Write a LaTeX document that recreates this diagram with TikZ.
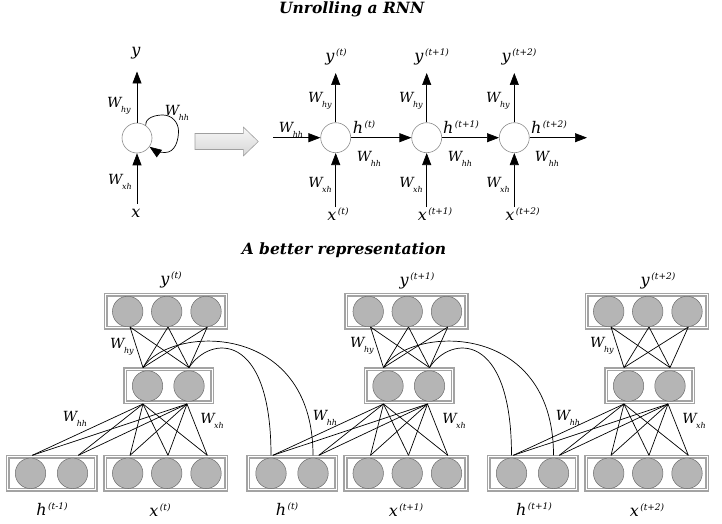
\documentclass[tikz,border=0pt]{standalone}
\usepackage{fontspec}
\setmainfont{DejaVu Serif}
\usetikzlibrary{arrows.meta}
\newcommand{\Wlab}[1]{\textit{W}\kern-1.5pt\raisebox{-5.5pt}{\fontsize{8}{8}\selectfont\textit{#1}}}
\newcommand{\suplab}[2]{\textit{#1}\kern1.5pt\raisebox{6.5pt}{\fontsize{9}{9}\selectfont\textit{#2}}}
\begin{document}
\begin{tikzpicture}[x=1pt,y=-1pt,
  arr/.style={-{Triangle[length=12pt,width=9pt]}, line width=0.7pt},
  cell/.style={circle, draw=gray!90, fill=white, minimum size=30pt, inner sep=0pt, line width=0.6pt},
  neuron/.style={circle, draw=gray!85!black, fill=gray!58, minimum size=30.5pt, inner sep=0pt, line width=0.5pt},
  layer/.style={rectangle, draw=gray!72, double=white, double distance=0.8pt, line width=1.7pt, inner sep=0pt},
  conn/.style={line width=0.7pt},
  lbl/.style={font=\fontsize{16}{16}\selectfont, inner sep=0pt},
  wl/.style={font=\fontsize{14}{14}\selectfont, inner sep=0pt},
  title/.style={font=\fontsize{15.5}{15.5}\selectfont\bfseries\itshape, inner sep=0pt}]
\useasboundingbox (0,0) rectangle (722,524);

% titles
\node[title] (t1) at (351.7,9) {Unrolling a RNN};
\node[title] (t2) at (344,250) {A better representation};

% ---------- folded RNN ----------
\node[cell] (c0) at (137,138) {};
\node[lbl] (ly0) at (136,53) {\textit{y}};
\node[lbl] (lx0) at (136,213) {\textit{x}};
\coordinate (ytip0) at (137,71.5);
\coordinate (xbot0) at (137,204);
\draw[arr] (c0.north) -- (ytip0);
\draw[arr] (xbot0) -- (c0.south);
\node[wl] (why0) at (119,106) {\Wlab{hy}};
\node[wl] (wxh0) at (120,182) {\Wlab{xh}};
\node[wl] (whh0) at (177,113) {\Wlab{hh}};
\coordinate (lp1) at (163,115);
\coordinate (lp2) at (178.5,131);
\coordinate (lp3) at (165,152.5);
\draw[arr] (c0.55) to[out=95,in=180] (lp1) to[out=0,in=90] (lp2) to[out=-90,in=0] (lp3) to[out=180,in=-35] (c0.-35);

% big hollow arrow
\shade[top color=gray!6, bottom color=gray!32, draw=gray!75, line width=0.6pt]
  (195,133.5) -- (243.3,133.5) -- (243.3,127) -- (258.3,141.5) -- (243.3,156) -- (243.3,149.5) -- (195,149.5) -- cycle;

% ---------- unrolled RNN ----------
\node[cell] (u1) at (335.7,137.7) {};
\node[cell] (u2) at (426.7,137.7) {};
\node[cell] (u3) at (514.3,137.7) {};
\coordinate (hin) at (273,137.7);
\coordinate (hout) at (587,137.7);
\draw[arr] (hin) -- (u1.west);
\draw[arr] (u1.east) -- (u2.west);
\draw[arr] (u2.east) -- (u3.west);
\draw[arr] (u3.east) -- (hout);
\foreach \n in {1,2,3} {
  \path (u\n) ++(0,-64.7) coordinate (yt\n);
  \path (u\n) ++(0,69.3) coordinate (xb\n);
  \draw[arr] (u\n.north) -- (yt\n);
  \draw[arr] (xb\n) -- (u\n.south);
}
\node[lbl] (uy1) at (336,57) {\suplab{y}{(t)}};
\node[lbl] (uy2) at (431.7,57) {\suplab{y}{(t+1)}};
\node[lbl] (uy3) at (519,57) {\suplab{y}{(t+2)}};
\node[lbl] (ux1) at (338,214) {\suplab{x}{(t)}};
\node[lbl] (ux2) at (435,214) {\suplab{x}{(t+1)}};
\node[lbl] (ux3) at (522.5,214) {\suplab{x}{(t+2)}};
\node[lbl] (uh1) at (364,127) {\suplab{h}{(t)}};
\node[lbl] (uh2) at (461,127) {\suplab{h}{(t+1)}};
\node[lbl] (uh3) at (549,127) {\suplab{h}{(t+2)}};
\node[wl] (uwi) at (291,130) {\Wlab{hh}};
\foreach \n/\xx in {1/320,2/411,3/498} {
  \node[wl] (uwhy\n) at (\xx,101) {\Wlab{hy}};
  \node[wl] (uwxh\n) at (\xx,185) {\Wlab{xh}};
}
\node[wl] (uwhh1) at (369,159) {\Wlab{hh}};
\node[wl] (uwhh2) at (460,159) {\Wlab{hh}};
\node[wl] (uwhh3) at (547,159) {\Wlab{hh}};

% ---------- better representation ----------
\foreach \i/\dx in {0/0,1/240.5,2/481} {
  \node[layer, minimum width=120.2pt, minimum height=33pt] (yb\i) at (165.9+\dx,311.3) {};
  \node[layer, minimum width=87.2pt, minimum height=33.2pt] (hb\i) at (168.7+\dx,385.7) {};
  \node[layer, minimum width=87.8pt, minimum height=33pt] (pb\i) at (51.7+\dx,473.3) {};
  \node[layer, minimum width=121pt, minimum height=33pt] (xb\i) at (165.5+\dx,473.3) {};
  \foreach \k/\xx/\cx in {1/127.7/130, 2/166.7/168, 3/206/207.3} {
    \node[neuron] (yn\i\k) at (\xx+\dx,311.5) {};
    \node[neuron] (xn\i\k) at (\xx+\dx,473.3) {};
    \coordinate (yp\i\k) at (\cx+\dx,327);
    \coordinate (xp\i\k) at (\cx+\dx,455.3);
  }
  \node[neuron] (hn\i1) at (147.5+\dx,386) {};
  \node[neuron] (hn\i2) at (189+\dx,386) {};
  \node[neuron] (pn\i1) at (30.5+\dx,473.3) {};
  \node[neuron] (pn\i2) at (72.5+\dx,473.3) {};
  \coordinate (ht\i1) at (143+\dx,367.6);
  \coordinate (ht\i2) at (189+\dx,367.6);
  \coordinate (hd\i1) at (143+\dx,404);
  \coordinate (hd\i2) at (187+\dx,404);
  \coordinate (pp\i1) at (32.3+\dx,455.3);
  \coordinate (pp\i2) at (78.3+\dx,455.3);
  \coordinate (pc\i1) at (30.5+\dx,455.3);
  \coordinate (pc\i2) at (72.5+\dx,455.3);
  \foreach \a in {1,2,3} {
    \foreach \b in {1,2} {
      \draw[conn] (yp\i\a) -- (ht\i\b);
      \draw[conn] (hd\i\b) -- (xp\i\a);
    }
  }
  \foreach \a in {1,2} {
    \foreach \b in {1,2} {
      \draw[conn] (hd\i\b) -- (pp\i\a);
    }
  }
}
% recurrent curves
\draw[conn] (ht01) .. controls +(27,-42.5) and +(0,-135) .. (pc12);
\draw[conn] (ht02) .. controls +(21,-32.5) and +(0,-125) .. (pc11);
\draw[conn] (ht11) .. controls +(27,-42.5) and +(0,-135) .. (pc22);
\draw[conn] (ht12) .. controls +(21,-32.5) and +(0,-125) .. (pc21);

% labels
\node[lbl] (by0) at (171,280) {\suplab{y}{(t)}};
\node[lbl] (by1) at (417,281) {\suplab{y}{(t+1)}};
\node[lbl] (by2) at (658,281) {\suplab{y}{(t+2)}};
\node[wl] (bwhy0) at (122,347) {\Wlab{hy}};
\node[wl] (bwhy1) at (362,346) {\Wlab{hy}};
\node[wl] (bwhy2) at (602,346) {\Wlab{hy}};
\node[wl] (bwhh0) at (75,419) {\Wlab{hh}};
\node[wl] (bwhh1) at (325,418) {\Wlab{hh}};
\node[wl] (bwhh2) at (568,418) {\Wlab{hh}};
\node[wl] (bwxh0) at (212,421) {\Wlab{xh}};
\node[wl] (bwxh1) at (454,421) {\Wlab{xh}};
\node[wl] (bwxh2) at (694,421) {\Wlab{xh}};
\node[lbl] (bh0) at (52,509) {\suplab{h}{(t-1)}};
\node[lbl] (bx0) at (160,510) {\suplab{x}{(t)}};
\node[lbl] (bh1) at (287,509) {\suplab{h}{(t)}};
\node[lbl] (bx1) at (406,510) {\suplab{x}{(t+1)}};
\node[lbl] (bh2) at (534,509) {\suplab{h}{(t+1)}};
\node[lbl] (bx2) at (647,510) {\suplab{x}{(t+2)}};
\end{tikzpicture}
\end{document}
